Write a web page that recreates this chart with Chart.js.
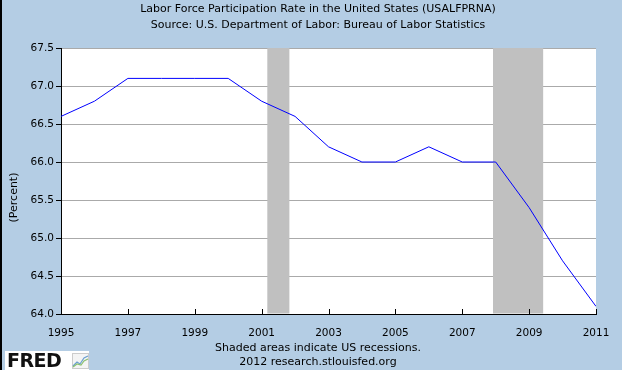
<!DOCTYPE html>
<html>
<head>
<meta charset="utf-8">
<script src="https://cdn.jsdelivr.net/npm/chart.js@4/dist/chart.umd.min.js"></script>
<style>
  body { margin: 0; }
  #wrap { position: relative; width: 622px; height: 370px; background: #b4cde4; overflow: hidden;
          font-family: 'DejaVu Sans', sans-serif; color: #000; }
  #wrap canvas { position: absolute; left: 0; top: 0; }
  .edge { position: absolute; left: 0; top: 0; width: 2px; height: 370px; background: #000; }
  .line { position: absolute; left: 0; width: 636px; text-align: center; font-size: 11px;
          line-height: 13px; white-space: nowrap; }
  .ytitle { position: absolute; left: -37px; top: 191px; width: 100px; height: 13px; font-size: 11px;
            line-height: 13px; text-align: center; transform: rotate(-90deg); }
  .logo { position: absolute; left: 5px; top: 351px; width: 84px; height: 19px; background: #fff; }
  .logo span { position: absolute; left: 2px; top: -2px; font: 900 19px 'DejaVu Sans', sans-serif;
               letter-spacing: -0.5px; color: #111; }
  .logo svg { position: absolute; left: 67px; top: 2px; }
</style>
</head>
<body>
<div id="wrap">
  <canvas id="lfprChart" width="622" height="370"></canvas>
  <div class="edge"></div>
  <div class="line" style="top:2px">Labor Force Participation Rate in the United States (USALFPRNA)</div>
  <div class="line" style="top:18px">Source: U.S. Department of Labor: Bureau of Labor Statistics</div>
  <div class="ytitle">(Percent)</div>
  <div class="line" style="top:341px">Shaded areas indicate US recessions.</div>
  <div class="line" style="top:355px">2012 research.stlouisfed.org</div>
  <div class="logo"><span>FRED</span>
    <svg width="17" height="16" viewBox="0 0 17 16">
      <rect x="0.5" y="0.5" width="16" height="15" fill="#f4f4f4" stroke="#ccc"/>
      <polyline points="1,13 5,9 8,11 12,5 16,3" fill="none" stroke="#6a9fd0" stroke-width="1.2"/>
      <polyline points="1,14 5,11 9,12 12,8 16,6" fill="none" stroke="#8cc070" stroke-width="1.2"/>
    </svg>
  </div>
</div>
<script>
  'use strict';

  // Annual labor force participation rate (percent)
  const years = [1995, 1996, 1997, 1998, 1999, 2000, 2001, 2002, 2003, 2004, 2005, 2006, 2007, 2008, 2009, 2010, 2011];
  const participation = [66.6, 66.8, 67.1, 67.1, 67.1, 67.1, 66.8, 66.6, 66.2, 66.0, 66.0, 66.2, 66.0, 66.0, 65.4, 64.7, 64.1];

  const yTickValues = [64.0, 64.5, 65.0, 65.5, 66.0, 66.5, 67.0, 67.5];
  const xTickValues = [1995, 1997, 1999, 2001, 2003, 2005, 2007, 2009, 2011];

  // US recessions (decimal years)
  const recessionStart = [2001.17, 2007.92];
  const recessionEnd = [2001.83, 2009.42];

  const tickFont = { family: 'DejaVu Sans', size: 10.5 };

  // white plot background
  const plotBackground = {
    id: 'plotBackground',
    beforeDraw(chart) {
      const { ctx, chartArea } = chart;
      ctx.save();
      ctx.fillStyle = '#ffffff';
      ctx.fillRect(chartArea.left, chartArea.top, chartArea.right - chartArea.left, chartArea.bottom - chartArea.top);
      ctx.restore();
    }
  };

  // gray bands for recessions, under the line but over the grid
  const recessionBands = {
    id: 'recessionBands',
    beforeDatasetsDraw(chart) {
      const { ctx, chartArea, scales } = chart;
      ctx.save();
      ctx.fillStyle = '#c0c0c0';
      for (let i = 0; i < recessionStart.length; i++) {
        const x1 = scales.x.getPixelForValue(recessionStart[i]);
        const x2 = scales.x.getPixelForValue(recessionEnd[i]);
        ctx.fillRect(x1, chartArea.top, x2 - x1, chartArea.bottom - chartArea.top - 0.5);
      }
      ctx.restore();
    }
  };

  // FRED draws the x ticks pointing into the plot
  const innerXTicks = {
    id: 'innerXTicks',
    afterDraw(chart) {
      const { ctx, chartArea, scales } = chart;
      ctx.save();
      ctx.strokeStyle = '#000';
      ctx.lineWidth = 1;
      ctx.beginPath();
      scales.x.ticks.forEach(t => {
        const px = Math.round(scales.x.getPixelForValue(t.value)) + 0.5;
        ctx.moveTo(px, chartArea.bottom);
        ctx.lineTo(px, chartArea.bottom - 5);
      });
      ctx.stroke();
      ctx.restore();
    }
  };

  const ctx = document.getElementById('lfprChart').getContext('2d');
  new Chart(ctx, {
    type: 'line',
    data: {
      datasets: [{
        data: years.map((yr, i) => ({ x: yr, y: participation[i] })),
        borderColor: '#0000ff',
        borderWidth: 1,
        pointRadius: 0,
        tension: 0,
        fill: false
      }]
    },
    options: {
      responsive: false,
      animation: false,
      layout: { padding: { left: 0, right: 26, top: 48, bottom: 30 } },
      plugins: {
        legend: { display: false },
        tooltip: { enabled: false }
      },
      scales: {
        x: {
          type: 'linear',
          min: 1995,
          max: 2011,
          afterBuildTicks: s => { s.ticks = xTickValues.map(v => ({ value: v })); },
          afterFit: s => { s.height = 26; },
          ticks: {
            color: '#000',
            font: tickFont,
            padding: 5,
            maxRotation: 0,
            autoSkip: false,
            callback: v => String(v)
          },
          grid: { display: false },
          border: { display: true, color: '#000', width: 1 }
        },
        y: {
          min: 64,
          max: 67.5,
          afterBuildTicks: s => { s.ticks = yTickValues.map(v => ({ value: v })); },
          afterFit: s => { s.width = 61; },
          ticks: {
            color: '#000',
            font: tickFont,
            padding: 2,
            callback: v => v.toFixed(1)
          },
          grid: {
            color: '#aaaaaa',
            lineWidth: 1,
            drawTicks: true,
            tickLength: 5,
            tickColor: '#000'
          },
          border: { display: true, color: '#000', width: 1 }
        }
      }
    },
    plugins: [plotBackground, recessionBands, innerXTicks]
  });
</script>
</body>
</html>
